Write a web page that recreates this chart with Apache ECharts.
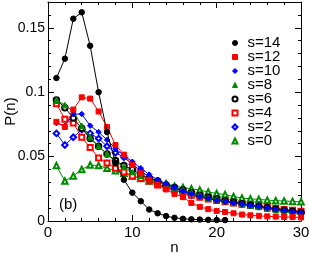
<!DOCTYPE html>
<html>
<head>
<meta charset="utf-8">
<script src="https://cdn.jsdelivr.net/npm/echarts@6/dist/echarts.min.js"></script>
<style>
html,body{margin:0;padding:0;background:#fff;}
#chart{width:309px;height:254px;}
</style>
</head>
<body>
<div id="chart"></div>
<script>
// Data
var nValues = [1,2,3,4,5,6,7,8,9,10,11,12,13,14,15,16,17,18,19,20,21,22,23,24,25,26,27,28,29,30];
var s14 = [0.111,0.126,0.157,0.162,0.136,0.100,0.069,0.045,0.032,0.022,0.0154,0.0089,0.006,0.0038,0.0025,0.0017,0.0013,0.0011,0.0009,0.0008,0.0007];
var s12 = [0.077,0.073,0.0865,0.096,0.095,0.085,0.073,0.059,0.0515,0.0435,0.037,0.032,0.028,0.0245,0.021,0.0185,0.014,0.011,0.0092,0.0078,0.007,0.006,0.005,0.0044,0.004,0.0036,0.0034,0.0031,0.003,0.0028];
var s10 = [0.076,0.074,0.083,0.083,0.074,0.069,0.063,0.056,0.051,0.046,0.041,0.036,0.032,0.029,0.026,0.023,0.021,0.019,0.0175,0.016,0.015,0.014,0.013,0.012,0.011,0.010,0.009,0.008,0.0072,0.0065];
var s8 = [0.094,0.090,0.085,0.074,0.065,0.058,0.052,0.046,0.042,0.038,0.035,0.032,0.030,0.028,0.026,0.024,0.022,0.020,0.018,0.017,0.0155,0.014,0.013,0.012,0.011,0.0095,0.0085,0.007,0.006,0.0048];
var s6 = [0.094,0.088,0.080,0.072,0.064,0.058,0.052,0.047,0.043,0.040,0.036,0.033,0.031,0.028,0.026,0.024,0.022,0.020,0.0185,0.017,0.0158,0.0145,0.0133,0.0122,0.0112,0.0102,0.0092,0.0083,0.0074,0.0066];
var s4 = [0.091,0.079,0.076,0.065,0.057,0.049,0.045,0.041,0.038,0.035,0.033,0.031,0.028,0.026,0.024,0.022,0.020,0.0185,0.017,0.016,0.015,0.014,0.013,0.012,0.0113,0.0105,0.0098,0.009,0.0083,0.0076];
var s2 = [0.068,0.059,0.065,0.071,0.068,0.064,0.058,0.053,0.0495,0.044,0.039,0.034,0.031,0.027,0.024,0.022,0.020,0.019,0.018,0.0167,0.0155,0.0145,0.0135,0.0125,0.0115,0.0105,0.0095,0.0085,0.0075,0.0065];
var s0 = [0.043,0.031,0.035,0.040,0.0435,0.043,0.041,0.039,0.037,0.035,0.033,0.031,0.030,0.029,0.027,0.026,0.025,0.024,0.0225,0.0214,0.0205,0.019,0.0178,0.0172,0.0168,0.0162,0.0158,0.0155,0.0152,0.0149];
var seriesNames = ['s=14','s=12','s=10','s=8','s=6','s=4','s=2','s=0'];
var xTickLabels = ['0','10','20','30'];
var yTickLabels = ['0','0.05','0.1','0.15'];

var seriesData = [s14,s12,s10,s8,s6,s4,s2,s0];
var colors = ['#000000','#ff0000','#0000ff','#008b00','#000000','#ff0000','#0000ff','#008b00'];
var symbols = ['circle','rect','diamond','triangle','emptyCircle','emptyRect','emptyDiamond','emptyTriangle'];
var sizes = [5.5,5,5.5,5.5,5.5,5,5.5,5.5];

function pairs(arr){ var out=[]; for(var i=0;i<arr.length;i++){ out.push([nValues[i], arr[i]]); } return out; }

var series = [];
for (var k = seriesData.length-1; k >= 0; k--) {
  series.push({
    name: seriesNames[k], type: 'line', data: pairs(seriesData[k]),
    symbol: symbols[k], symbolSize: sizes[k], showSymbol: true,
    lineStyle: {color: colors[k], width: 1},
    itemStyle: {color: colors[k], borderColor: colors[k], borderWidth: 1},
    emphasis: {disabled: true}, animation: false, z: 2 + (seriesData.length - k)
  });
}

var font = 'Liberation Sans, Arial, sans-serif';
function xAx(pos, labels){
  return {type:'value', position: pos, min:0, max:30, interval:10,
    axisLine:{show:true, onZero:false, lineStyle:{color:'#000', width:1}},
    axisTick:{show:true, inside:true, length:6, lineStyle:{color:'#000'}},
    minorTick:{show:true, splitNumber:5, length:3, lineStyle:{color:'#000'}},
    splitLine:{show:false},
    axisLabel:{show:labels, color:'#000', fontSize:15, fontFamily:font, margin:4,
      formatter:function(v){ var i = Math.round(v/10); return xTickLabels[i]; }},
    name: labels ? 'n' : '', nameLocation:'middle', nameGap:19, nameMoveOverlap:false,
    nameTextStyle:{color:'#000', fontSize:15, fontFamily:font}
  };
}
function yAx(pos, major, labels){
  return {type:'value', position: pos, min:0, max:0.17, interval: major?0.05:0.01,
    axisLine:{show:major, onZero:false, lineStyle:{color:'#000', width:1}},
    axisTick:{show:true, inside:true, length: major?6:3, lineStyle:{color:'#000'}},
    splitLine:{show:false},
    axisLabel:{show:labels, showMaxLabel:false, color:'#000', fontSize:14, fontFamily:font, margin:3,
      formatter:function(v){ var i = Math.round(v/0.05); return (Math.abs(v - i*0.05) < 1e-9 && i < yTickLabels.length) ? yTickLabels[i] : ''; }},
    name: labels ? 'P(n)' : '', nameLocation:'middle', nameGap:30, nameMoveOverlap:false,
    nameTextStyle:{color:'#000', fontSize:15, fontFamily:font}
  };
}

var chart = echarts.init(document.getElementById('chart'), null, {renderer:'canvas'});
chart.setOption({
  backgroundColor:'#fff',
  animation:false,
  grid:{left:48, right:8, top:2, bottom:33, containLabel:false, outerBoundsMode:'none'},
  xAxis:[xAx('bottom', true), xAx('top', false)],
  yAxis:[yAx('left', true, true), yAx('left', false, false), yAx('right', true, false), yAx('right', false, false)],
  legend:{
    show:true, orient:'vertical', left:231.5, top:35.5, padding:0, selectedMode:false,
    itemWidth:5, itemHeight:5, itemGap:-1,
    textStyle:{color:'#000', fontSize:15, fontFamily:font, padding:[0,0,0,5]},
    data: seriesNames.map(function(nm, i){ return {name:nm, icon:symbols[i], itemStyle:{color:colors[i], borderColor:colors[i], borderWidth:1}}; })
  },
  graphic:[{type:'text', left:59, top:197, style:{text:'(b)', fill:'#000', font:'15px ' + font}}],
  series: series
});
</script>
</body>
</html>
